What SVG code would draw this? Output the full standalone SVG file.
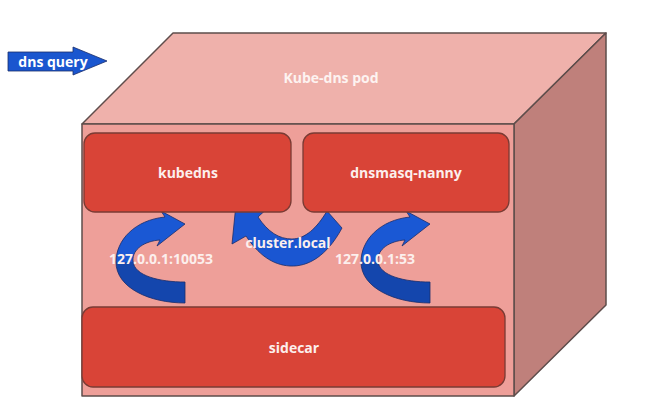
<svg xmlns="http://www.w3.org/2000/svg" width="650" height="419" viewBox="0 0 650 419">
  <defs>
    <linearGradient id="curveFill" x1="0" y1="0" x2="0" y2="1">
      <stop offset="0" stop-color="#1a58d4"/>
      <stop offset="0.55" stop-color="#1a58d4"/>
      <stop offset="0.56" stop-color="#1446ad"/>
      <stop offset="1" stop-color="#1446ad"/>
    </linearGradient>
    <style>
      .face { stroke: #5e4d4b; stroke-width: 1.5; stroke-linejoin: round; }
      .box { fill: #d94437; stroke: #7a3b34; stroke-width: 1.3; }
      .lbl { font-family: "Open Sans", "Liberation Sans", sans-serif; font-weight: 700; font-size: 14px; fill: #fcefed; text-anchor: middle; dominant-baseline: central; }
      .arrow { stroke: #1b2d6b; stroke-width: 0.8; stroke-linejoin: round; }
    </style>
  </defs>
  <rect width="650" height="419" fill="#ffffff"/>

  <g id="pod">
    <polygon class="face" points="82,124 173,33 606,33 514,124" fill="#efb1ab"/>
    <polygon class="face" points="514,124 606,33 606,305 514,396" fill="#bf807b"/>
    <rect class="face" x="82" y="124" width="432" height="272" fill="#ee9f99"/>
    <text class="lbl" x="331" y="77" style="fill:#fdf3f1">Kube-dns pod</text>
  </g>

  <g id="connectors">
    <g id="dns-query">
      <path class="arrow" d="M8,52 L73,52 L73,47 L107,61 L73,75 L73,71 L8,71 Z" fill="#1a56cf"/>
      <text class="lbl" x="53" y="61" style="fill:#ffffff">dns query</text>
    </g>
    <g id="arrow-10053">
      <path class="arrow" fill="url(#curveFill)" d="M185,282 C160,282 134,276 133,261 C132,249 145,241 160,240 L157,246 L185,224 L161,211 L165,217 C135,220 116,240 116,262 C116,288 150,303 185,303 Z"/>
    </g>
    <g id="arrow-53">
      <path class="arrow" fill="url(#curveFill)" transform="translate(245,0)" d="M185,282 C160,282 134,276 133,261 C132,249 145,241 160,240 L157,246 L185,224 L161,211 L165,217 C135,220 116,240 116,262 C116,288 150,303 185,303 Z"/>
    </g>
    <g id="arrow-cluster">
      <path class="arrow" fill="#1a56d2" d="M327,211 L342,228 C327,256 308,267 290,266 C272,265 258,254 246,236 L232,244 L236,204 L270,206 L258,217 C268,232 279,239 292,239 C305,239 317,228 327,211 Z"/>
    </g>
  </g>

  <g id="kubedns">
    <rect class="box" x="84" y="133" width="207" height="79" rx="11"/>
    <text class="lbl" x="188" y="172">kubedns</text>
  </g>
  <g id="dnsmasq-nanny">
    <rect class="box" x="303" y="133" width="206" height="79" rx="11"/>
    <text class="lbl" x="406" y="172">dnsmasq-nanny</text>
  </g>
  <g id="sidecar">
    <rect class="box" x="82" y="307" width="423" height="80" rx="11"/>
    <text class="lbl" x="294" y="347">sidecar</text>
  </g>

  <g id="labels">
    <text class="lbl" x="161" y="258">127.0.0.1:10053</text>
    <text class="lbl" x="375" y="258">127.0.0.1:53</text>
    <text class="lbl" x="288" y="242">cluster.local</text>
  </g>
</svg>
